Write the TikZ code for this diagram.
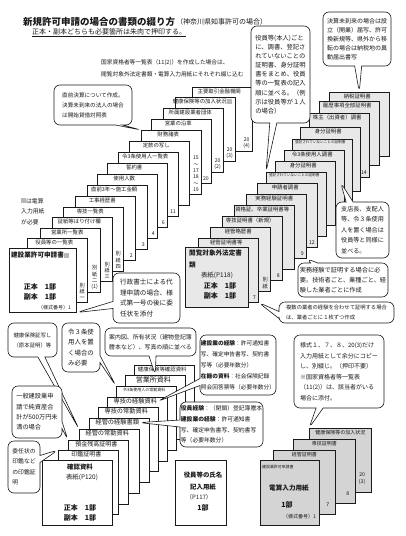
\documentclass[tikz,border=0pt]{standalone}
\usepackage{fontspec}
\setmainfont{Noto Sans CJK JP}
\usetikzlibrary{calc,shapes.callouts,shadows}
\definecolor{pageGrey}{HTML}{E8E8E8}
\definecolor{inputGrey}{HTML}{D4D4D4}
\definecolor{markGrey}{HTML}{B8B8B8}
\definecolor{inkDark}{HTML}{1A1A1A}
\newcommand{\mk}{\textcolor{markGrey}{\rule{5pt}{5pt}}}

\begin{document}
\begin{tikzpicture}[x=1pt,y=-1pt,
  font=\fontsize{5.6}{10}\selectfont, text=inkDark,
  pg/.style={draw=inkDark, line width=0.55pt, fill=white, anchor=north west,
    minimum width=60pt, minimum height=64pt, inner sep=0pt,
    drop shadow={shadow xshift=1.2pt, shadow yshift=-1.2pt, fill=black!60, opacity=0.8}},
  pgg/.style={pg, fill=pageGrey},
  pgi/.style={pg, fill=inputGrey},
  pglbl/.style={anchor=north, inner sep=0pt, font=\fontsize{5.4}{6}\selectfont},
  pgnum/.style={anchor=south east, inner sep=0pt, align=center,
    font=\fontsize{5.2}{6.4}\selectfont},
  txt/.style={inner sep=0pt},
  bold/.style={inner sep=0pt, font=\fontsize{7}{8}\selectfont\bfseries},
  bubble/.style={rectangle callout, draw=inkDark, fill=white, line width=0.6pt,
    rounded corners=6pt, align=left, inner sep=0pt, callout pointer width=7pt},
]
\useasboundingbox (0,0) rectangle (406,536);
\fill[white] (0,0) rectangle (406,536);

% ---------------------------- headings ------------------------------------
\node[txt, anchor=west, font=\fontsize{9.5}{10}\selectfont\bfseries] (title) at (23,22)
  {新規許可申請の場合の書類の綴り方};
\node[txt, anchor=west, font=\fontsize{7}{8}\selectfont] (area) at (176,22)
  {（神奈川県知事許可の場合）};
\node[txt, anchor=west, font=\fontsize{7}{8}\selectfont] (sub) at (32,33)
  {\underline{正本・副本どちらも必要箇所は朱肉で押印する。}};
\node[txt, anchor=north west, align=left, font=\fontsize{5.7}{12}\selectfont] (note) at (101,59)
  {国家資格者等一覧表（11(2)）を作成した場合は、\\閲覧対象外法定書類・電算入力用紙にそれぞれ綴じ込む};
\node[txt, anchor=north west, align=left, font=\fontsize{5.8}{10.5}\selectfont] (legend) at (21,198)
  {\mk は電算\\入力用紙\\が必要};

% ---------------------------- main stack (white) --------------------------
\foreach \i/\x/\y/\lb/\nm in {
  15/192/87/主要取引金融機関/{20\\(4)},
  14/175/97/{健康保険等の加入状況\mk}/{20\\(3)},
  13/163/108/所属建設業者団体/{20\\(2)},
  12/151/119/営業の沿革/20,
  11/141/130/財務諸表/{15\\～\\17\\18\\～\\19},
  10/129/141/定款の写し/{},
  9/118/152/令3条使用人一覧表/11,
  8/107/163/誓約書/6,
  7/97/174/使用人数/4,
  6/87/185/直前3年～施工金額/3,
  5/75/196/工事経歴書/2,
  4/63/207/専技一覧表/{別\\紙\\四},
  3/52/217/証紙等はり付け欄/{別\\紙\\三},
  2/40/228/営業所一覧表/{別\\紙\\二\\(1)},
  1/27/238/役員等の一覧表/{別\\紙\\一}}{
  \node[pg] (L\i) at (\x,\y) {};
  \node[pglbl] (L\i t) at ($(L\i.north)+(-3,1.5)$) {\lb};
  \node[pgnum] (L\i n) at ($(L\i.south east)+(-2.5,-2.5)$) {\nm};
}
\node[pg, minimum width=67pt] (L0) at (9,248) {};
\node[bold, font=\fontsize{6.6}{7}\selectfont\bfseries] (L0t) at (40,255) {建設業許可申請書\mk};
\node[bold] (L0a) at (40,287) {正本　1部};
\node[bold] (L0b) at (40,297) {副本　1部};
\node[txt, anchor=east, font=\fontsize{5}{6}\selectfont] (L0c) at (71,308) {（様式番号）1};

% ---------------------------- closed stack (grey) -------------------------
\foreach \i/\x/\y/\lb/\nm in {
  14/329/92/納税証明書/{},
  13/319/101/履歴事項全部証明書/{},
  12/309/113/株主（出資者）調書/14,
  11/300/127/身分証明書/{},
  10/292/139/{\fontsize{3.6}{4}\selectfont 登記されていないことの証明書}/{},
  9/284/150/令3条使用人調書/13,
  8/275/161/身分証明書/{},
  7/266/172/{\fontsize{3.6}{4}\selectfont 登記されていないことの証明書}/{},
  6/257/183/申請者調書/12,
  5/246/194/実務経験証明書/9,
  4/234/205/資格証、卒業証明書等/{},
  3/222/216/専技証明書（新規）/8,
  2/210/227/経管略歴書/{別\\紙},
  1/198/238/経管証明書等/7}{
  \node[pgg] (M\i) at (\x,\y) {};
  \node[pglbl] (M\i t) at ($(M\i.north)+(-2,1.5)$) {\lb};
  \node[pgnum] (M\i n) at ($(M\i.south east)+(-2.5,-2.5)$) {\nm};
}
\node[pgg, minimum width=63pt, minimum height=60pt] (M0) at (185,247) {};
\node[txt, anchor=north west, align=left, font=\fontsize{6.6}{12}\selectfont\bfseries] (M0t) at (189,250)
  {閲覧対象外法定書\\類};
\node[txt, font=\fontsize{6.4}{7}\selectfont] (M0p) at (217,275) {表紙(P118)};
\node[bold] (M0a) at (220,286) {正本　1部};
\node[bold] (M0b) at (220,296) {副本　1部};

% ---------------------------- check documents -----------------------------
\foreach \i/\x/\y/\lb in {
  9/134/365/健康保険等確認資料,
  8/125/375/{\fontsize{7}{8}\selectfont 営業所資料},
  7/116/386/{\fontsize{4}{5}\selectfont 令3条使用人の常勤資料},
  6/107/397/{\fontsize{6.2}{7}\selectfont 専技の経験資料},
  5/98/407/{\fontsize{6.2}{7}\selectfont 専技の常勤資料},
  4/89/418/{\fontsize{6.2}{7}\selectfont 経管の経験書類},
  3/79/429/{\fontsize{6.2}{7}\selectfont 経管の常勤資料},
  2/68/440/{\fontsize{6}{7}\selectfont 預金残高証明書},
  1/58/450/{\fontsize{6}{7}\selectfont 印鑑証明書}}{
  \node[pg] (BL\i) at (\x,\y) {};
  \node[pglbl] (BL\i t) at ($(BL\i.north)+(-2,1.5)$) {\lb};
}
\node[pg, minimum width=70pt, minimum height=65pt] (BL0) at (42,460) {};
\node[bold, font=\fontsize{6.4}{7}\selectfont\bfseries] (BL0t) at (80,467) {確認資料};
\node[txt, font=\fontsize{6.4}{7}\selectfont] (BL0p) at (82,477) {表紙(P120)};
\node[bold] (BL0a) at (80,508) {正本　1部};
\node[bold] (BL0b) at (80,518) {副本　1部};

% ---------------------------- officer name sheet --------------------------
\node[pg, minimum width=51pt, minimum height=65pt] (BM) at (175,460) {};
\node[bold, font=\fontsize{6.4}{7}\selectfont\bfseries] (BMa) at (203,475) {役員等の氏名};
\node[bold, font=\fontsize{6.4}{7}\selectfont\bfseries] (BMb) at (203,487) {記入用紙};
\node[txt, anchor=west, font=\fontsize{6}{7}\selectfont] (BMc) at (186,497) {（P117）};
\node[bold] (BMd) at (203,508) {1部};

% ---------------------------- input sheets (grey) -------------------------
\foreach \i/\x/\y/\lb/\nm in {
  3/309/428/健康保険等の加入状況/{20\\(3)},
  2/293/439/専技証明書/8,
  1/273/450/経管証明書/7}{
  \node[pgi, minimum width=62pt] (BR\i) at (\x,\y) {};
  \node[pglbl, font=\fontsize{5}{6}\selectfont] (BR\i t) at ($(BR\i.north)+(0,2)$) {\lb};
  \node[pgnum] (BR\i n) at ($(BR\i.south east)+(-6,-8)$) {\nm};
}
\node[pgi, minimum width=59pt, minimum height=65pt] (BR0) at (260,460) {};
\node[txt, anchor=west, font=\fontsize{3.9}{4}\selectfont] (BR0t) at (262,467) {建設業許可申請書};
\node[bold, font=\fontsize{6.6}{7}\selectfont\bfseries] (BR0a) at (289,488) {電算入力用紙};
\node[bold] (BR0b) at (287,505) {1部};
\node[txt, anchor=east, font=\fontsize{5}{6}\selectfont] (BR0c) at (316,517) {（様式番号）1};

% ---------------------------- callouts ------------------------------------
\node[bubble, minimum width=78pt, minimum height=40pt,
  callout absolute pointer={(L11.north west)}] (cFin) at (93,105)
  {直前決算について作成。\\決算未到来の法人の場合\\は開始貸借対照表};

\node[bubble, minimum width=59pt, minimum height=97pt,
  font=\fontsize{6.3}{9.1}\selectfont,
  callout absolute pointer={(M7.north west)}] (cOff) at (280.5,74.5)
  {役員等(本人)ごと\\に、調書、登記さ\\れていないことの\\証明書、身分証明\\書をまとめ、役員\\等の一覧表の記入\\順に並べる。（例\\示は役員等が１人\\の場合）};

\node[bubble, minimum width=68pt, minimum height=54pt,
  font=\fontsize{6}{9}\selectfont,
  callout absolute pointer={(M14.north)}] (cTax) at (357,39)
  {決算未到来の場合は設\\立（開業）届写、許可\\換新規等、県外から移\\転の場合は納税地の異\\動届出書写};

\node[bubble, minimum width=53pt, minimum height=56pt,
  font=\fontsize{6.1}{10.5}\selectfont,
  callout absolute pointer={($(M9.east)+(-4,0)$)}] (cBr) at (362.5,230)
  {支店長、支配人\\等、令３条使用\\人を置く場合は\\役員等と同様に\\並べる。};

\node[bubble, minimum width=90pt, minimum height=34pt,
  font=\fontsize{6.2}{10}\selectfont,
  callout absolute pointer={(M5.south east)}] (cExp) at (343,280)
  {実務経験で証明する場合に必\\要。技術者ごと、業種ごと、経\\験した業者ごとに作成};

\node[bubble, minimum width=115pt, minimum height=21pt,
  font=\fontsize{5.3}{10}\selectfont,
  callout absolute pointer={(M1.south east)}] (cMul) at (336.5,312.5)
  {複数の業者の経験を合わせて証明する場合\\は、業者ごとに１枚ずつ作成};

\node[bubble, minimum width=67pt, minimum height=50pt,
  font=\fontsize{6.6}{10.5}\selectfont,
  callout absolute pointer={(L0.south east)}] (cAgt) at (146.5,298)
  {行政書士による代\\理申請の場合、様\\式第一号の後に委\\任状を添付};

\node[bubble, minimum width=49pt, minimum height=34pt,
  font=\fontsize{5.4}{10}\selectfont,
  callout absolute pointer={(BL3.north west)}] (cIns) at (32.5,340)
  {健康保険証写し\\（原本証明）等};

\node[bubble, minimum width=38pt, minimum height=49pt,
  font=\fontsize{6.4}{10.5}\selectfont,
  callout absolute pointer={(BL7.north west)}] (cThr) at (81,347.5)
  {令３条使\\用人を置\\く場合の\\み必要};

\node[bubble, minimum width=91pt, minimum height=28pt,
  font=\fontsize{5.9}{10}\selectfont,
  callout absolute pointer={(BL8.north)}] (cShop) at (150.5,342)
  {案内図、所有状況（建物登記簿\\謄本など）、写真の順に並べる};

\node[bubble, minimum width=76pt, minimum height=60pt,
  font=\fontsize{5.7}{11}\selectfont,
  callout absolute pointer={(BL6t.east)}] (cEng) at (238,365)
  {\textbf{建設業の経験}：許可通知書\\写、確定申告書写、契約書\\写等（必要年数分）\\\textbf{在籍の資料}：社会保険記録\\照会回答票等（必要年数分）};

\node[bubble, minimum width=83pt, minimum height=45pt,
  font=\fontsize{5.8}{10.7}\selectfont,
  callout absolute pointer={(BL4t.east)}] (cMgr) at (221.5,424.5)
  {\textbf{役員経験}：（閉鎖）登記簿謄本\\\textbf{建設業の経験}：許可通知書\\写、確定申告書写、契約書写\\等（必要年数分）};

\node[bubble, minimum width=50pt, minimum height=52pt,
  font=\fontsize{6.2}{10.3}\selectfont,
  callout absolute pointer={(BL2.north west)}] (cGen) at (37,412)
  {一般建設業申\\請で純資産合\\計が500万円未\\満の場合};

\node[bubble, minimum width=32pt, minimum height=52pt,
  font=\fontsize{5.8}{10.5}\selectfont,
  callout absolute pointer={(BL1.north west)}] (cSeal) at (24,467)
  {委任状の\\印鑑など\\の印鑑証\\明};

\node[bubble, minimum width=90pt, minimum height=73pt,
  font=\fontsize{6}{10.5}\selectfont,
  callout absolute pointer={(BR3.north west)}] (cInp) at (339,371.5)
  {様式１、７、８、20(3)だけ\\入力用紙として余分にコピー\\し、別綴じ。（押印不要）\\※国家資格者等一覧表\\（11(2)）は、該当者がいる\\場合に添付。};

\end{tikzpicture}
\end{document}
